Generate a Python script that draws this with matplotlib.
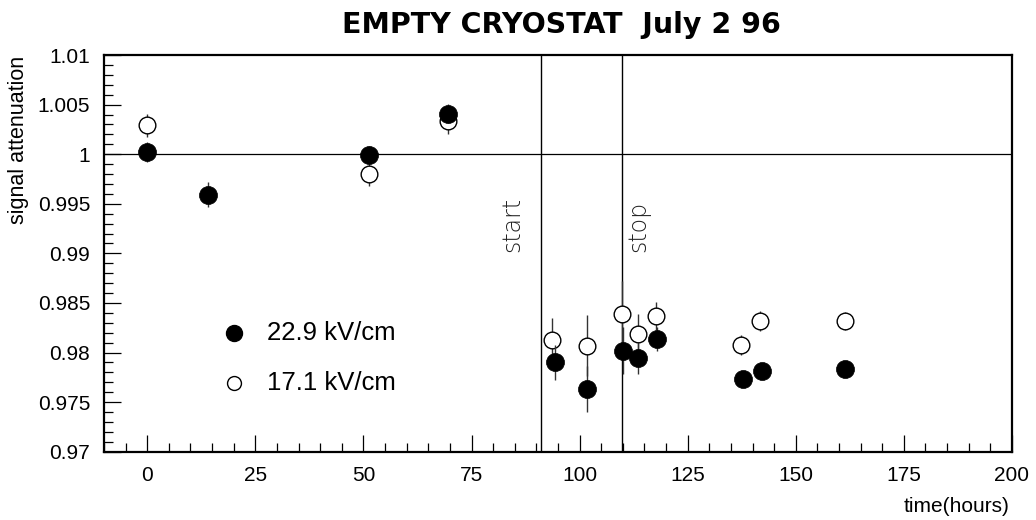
import matplotlib
matplotlib.use("Agg")
import matplotlib.pyplot as plt
from matplotlib.ticker import FixedLocator, FixedFormatter, MultipleLocator

# --- data -------------------------------------------------------------
t_high = [0, 14.1, 51.4, 69.5, 94.3, 101.7, 110.1, 113.6, 117.8, 137.7, 142.2, 161.4]
att_high = [1.0002, 0.9959, 0.9999, 1.0041, 0.9790, 0.9763, 0.9802, 0.9794,
            0.9814, 0.9773, 0.9781, 0.9783]
err_high = [0.0010, 0.00125, 0.0009, 0.0010, 0.00175, 0.0023, 0.0024, 0.0016,
            0.0012, 0.0008, 0.0008, 0.0008]

t_low = [0, 51.4, 69.5, 93.5, 101.7, 109.9, 113.6, 117.6, 137.4, 141.8, 161.3]
att_low = [1.0029, 0.9980, 1.0033, 0.9813, 0.9807, 0.9839, 0.9819, 0.9837,
           0.9808, 0.9832, 0.9832]
err_low = [0.0012, 0.0012, 0.0013, 0.0022, 0.0031, 0.0033, 0.0020, 0.0014,
           0.0010, 0.0010, 0.0009]

label_high = "22.9 kV/cm"
label_low = "17.1 kV/cm"
t_start = 91.0
t_stop = 109.7
reference_level = 1.0

x_ticks = [0, 25, 50, 75, 100, 125, 150, 175, 200]
y_ticks = [0.97, 0.975, 0.98, 0.985, 0.99, 0.995, 1.0, 1.005, 1.01]
y_tick_labels = ["0.97", "0.975", "0.98", "0.985", "0.99", "0.995", "1", "1.005", "1.01"]

# --- figure -----------------------------------------------------------
plt.rcParams['font.family'] = ['Liberation Sans', 'DejaVu Sans']

fig = plt.figure(figsize=(10.36, 5.2), dpi=100)
ax = fig.add_axes([0.1004, 0.1313, 0.8764, 0.7629])
ax.set_xlim(-10, 200)
ax.set_ylim(0.97, 1.01)

# reference level and run markers
ax.axhline(reference_level, color='black', lw=0.9, zorder=1)
ax.axvline(t_start, color='black', lw=1.0, zorder=1)
ax.axvline(t_stop, color='black', lw=1.0, zorder=1)

thin = ['DejaVu Sans']
ax.text(84.3, 0.9901, "start", rotation=90, rotation_mode='anchor',
        ha='left', va='center', fontsize=17, fontweight='light',
        family=thin, color='#222222')
ax.text(113.6, 0.9901, "stop", rotation=90, rotation_mode='anchor',
        ha='left', va='center', fontsize=17, fontweight='light',
        family=thin, color='#222222')

# open circles underneath, filled circles on top
ax.errorbar(t_low, att_low, yerr=err_low, fmt='o', ms=12, mfc='white',
            mec='black', mew=1.0, ecolor='#333333', elinewidth=1.0,
            capsize=0, zorder=3)
ax.errorbar(t_high, att_high, yerr=err_high, fmt='o', ms=13, mfc='black',
            mec='black', mew=0.5, ecolor='#333333', elinewidth=1.0,
            capsize=0, zorder=4)

# key
ax.plot([0.1435], [0.2985], 'o', ms=11.5, mfc='black', mec='black',
        transform=ax.transAxes, clip_on=False)
ax.plot([0.1435], [0.174], 'o', ms=10, mfc='white', mec='black', mew=1.0,
        transform=ax.transAxes, clip_on=False)
ax.text(0.179, 0.2985, label_high, transform=ax.transAxes, ha='left',
        va='center', fontsize=18.5)
ax.text(0.179, 0.174, label_low, transform=ax.transAxes, ha='left',
        va='center', fontsize=18.5)

# axes styling
for side in ax.spines.values():
    side.set_linewidth(1.6)
ax.xaxis.set_major_locator(FixedLocator(x_ticks))
ax.xaxis.set_minor_locator(MultipleLocator(5))
ax.yaxis.set_major_locator(FixedLocator(y_ticks))
ax.yaxis.set_major_formatter(FixedFormatter(y_tick_labels))
ax.yaxis.set_minor_locator(MultipleLocator(0.001))
ax.tick_params(which='both', direction='in', top=False, right=False,
               width=0.9, colors='black')
ax.tick_params(which='major', length=12.5, labelsize=15, pad=10)
ax.tick_params(which='minor', length=6.5)

fig.text(0.5415, 0.9365, "EMPTY CRYOSTAT  July 2 96", ha='center',
         va='baseline', fontsize=20.5, fontweight='bold', family='DejaVu Sans')
fig.text(0.974, 0.0256, "time(hours)", ha='right', va='center', fontsize=15)
fig.text(0.0179, 0.7308, "signal attenuation", rotation=90, ha='center',
         va='center', fontsize=15.5)

fig.savefig("out.png", dpi=100)
